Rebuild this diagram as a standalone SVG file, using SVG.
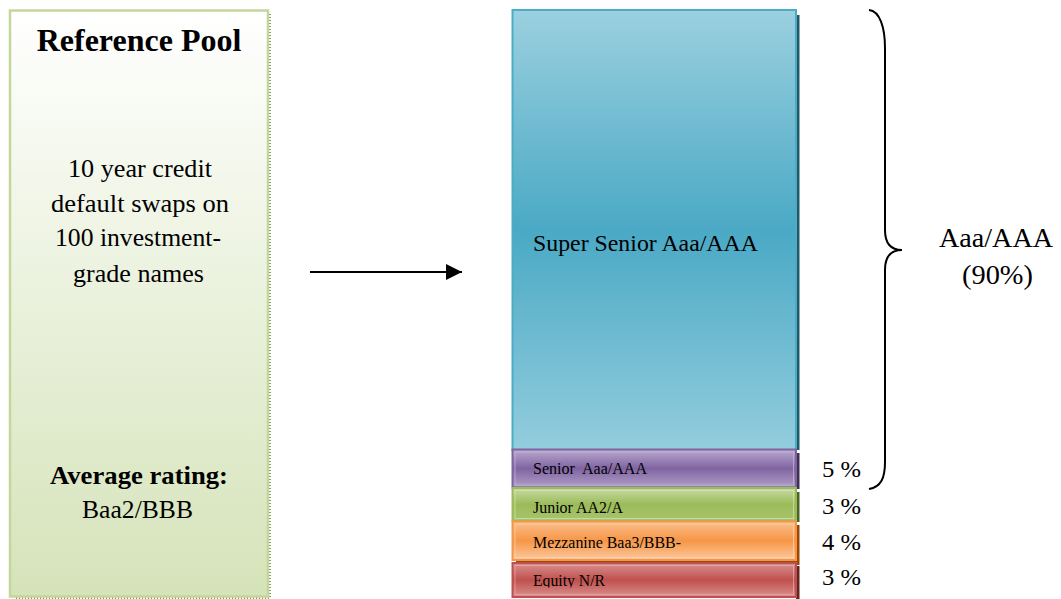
<svg xmlns="http://www.w3.org/2000/svg" width="1061" height="599" viewBox="0 0 1061 599">
<style>
text{font-family:"Liberation Serif","Times New Roman",serif;fill:#000}
.b{font-weight:bold}
.body{font-size:25px}
.tl{font-size:16px}
.pct{font-size:24px}
.side{font-size:27px}
.conn{stroke:#000;stroke-width:2;fill:none}
</style>
<defs>
<linearGradient id="gPool" x1="0" y1="0" x2="0" y2="1">
<stop offset="0" stop-color="#ffffff"/><stop offset="1" stop-color="#d5e3b9"/>
</linearGradient>
<linearGradient id="gSS" x1="0" y1="0" x2="0" y2="1">
<stop offset="0" stop-color="#9bd0df"/><stop offset="0.5" stop-color="#4aa9c5"/><stop offset="1" stop-color="#93cddd"/>
</linearGradient>
<linearGradient id="gPu" x1="0" y1="0" x2="0" y2="1">
<stop offset="0" stop-color="#b9a9cf"/><stop offset="0.5" stop-color="#8064a2"/><stop offset="1" stop-color="#b09fc6"/>
</linearGradient>
<linearGradient id="gGr" x1="0" y1="0" x2="0" y2="1">
<stop offset="0" stop-color="#c8dba4"/><stop offset="0.5" stop-color="#9bbb59"/><stop offset="1" stop-color="#a9c46f"/>
</linearGradient>
<linearGradient id="gOr" x1="0" y1="0" x2="0" y2="1">
<stop offset="0" stop-color="#fbbf8e"/><stop offset="0.5" stop-color="#f79646"/><stop offset="1" stop-color="#fcc9a0"/>
</linearGradient>
<linearGradient id="gRe" x1="0" y1="0" x2="0" y2="1">
<stop offset="0" stop-color="#d89290"/><stop offset="0.5" stop-color="#c0504d"/><stop offset="1" stop-color="#d9908e"/>
</linearGradient>
<marker id="ah" viewBox="0 0 16 16" refX="16" refY="8" markerWidth="16" markerHeight="16" markerUnits="userSpaceOnUse" orient="auto">
<path d="M0,0 L16,8 L0,16 Z" fill="#000"/>
</marker>
<clipPath id="clipEq"><rect x="512" y="562" width="290" height="25.5"/></clipPath>
</defs>
<rect width="1061" height="599" fill="#fff"/>

<g id="reference-pool">
<path d="M270,14 V598 H14" fill="none" stroke="#5f7530" stroke-width="1.5" stroke-dasharray="1,2"/>
<rect x="10" y="10.5" width="258" height="586" fill="url(#gPool)" stroke="#c3d69b" stroke-width="2.5"/>
<text class="b" x="139" y="51" font-size="32" text-anchor="middle">Reference Pool</text>
<text class="body" x="68" y="177" textLength="144" lengthAdjust="spacingAndGlyphs">10 year credit</text>
<text class="body" x="51" y="212" textLength="178" lengthAdjust="spacingAndGlyphs">default swaps on</text>
<text class="body" x="55" y="246" textLength="166" lengthAdjust="spacingAndGlyphs">100 investment-</text>
<text class="body" x="73" y="282" textLength="131" lengthAdjust="spacingAndGlyphs">grade names</text>
<text class="body b" x="50" y="484" textLength="178" lengthAdjust="spacingAndGlyphs">Average rating:</text>
<text class="body" x="82" y="518" textLength="111" lengthAdjust="spacingAndGlyphs">Baa2/BBB</text>
</g>

<g id="super-senior">
<rect x="796" y="15" width="3.5" height="435" fill="#215968"/>
<rect x="512.5" y="10" width="283.5" height="440" fill="url(#gSS)" stroke="#4bacc6" stroke-width="2"/>
<text x="533" y="251" font-size="24" textLength="225" lengthAdjust="spacingAndGlyphs">Super Senior Aaa/AAA</text>
</g>

<g id="senior">
<rect x="796" y="453" width="3.5" height="36" fill="#3f3151"/>
<rect x="512.5" y="449.5" width="283.5" height="38" fill="url(#gPu)" stroke="#8064a2" stroke-width="2"/>
<rect x="515" y="452" width="278.5" height="33" fill="none" stroke="#c6b8d8" stroke-width="1" opacity="0.7"/>
<text class="tl" x="533" y="474" xml:space="preserve" textLength="114" lengthAdjust="spacingAndGlyphs">Senior  Aaa/AAA</text>
</g>

<g id="junior">
<rect x="796" y="492" width="3.5" height="30" fill="#4f6228"/>
<rect x="512.5" y="488" width="283.5" height="33" fill="url(#gGr)" stroke="#9bbb59" stroke-width="2"/>
<rect x="515" y="490.5" width="278.5" height="28" fill="none" stroke="#d4e3b5" stroke-width="1" opacity="0.7"/>
<text class="tl" x="533" y="513" textLength="90" lengthAdjust="spacingAndGlyphs">Junior AA2/A</text>
</g>

<g id="mezzanine">
<rect x="516" y="525" width="283.5" height="40" fill="#984807"/>
<rect x="512.5" y="521.5" width="283.5" height="38.5" fill="url(#gOr)" stroke="#f79646" stroke-width="2"/>
<rect x="515" y="524" width="278.5" height="33.5" fill="none" stroke="#fcd5b4" stroke-width="1" opacity="0.7"/>
<text class="tl" x="533" y="548" textLength="148" lengthAdjust="spacingAndGlyphs">Mezzanine Baa3/BBB-</text>
</g>

<g id="equity">
<rect x="796" y="566" width="3.5" height="33" fill="#632523"/>
<rect x="512.5" y="563" width="283.5" height="34" fill="url(#gRe)" stroke="#c0504d" stroke-width="2"/>
<rect x="515" y="565.5" width="278.5" height="29" fill="none" stroke="#e6b9b8" stroke-width="1" opacity="0.6"/>
<text class="tl" x="533" y="586" textLength="72" lengthAdjust="spacingAndGlyphs" clip-path="url(#clipEq)">Equity N/R</text>
</g>

<g id="percentages">
<text class="pct" x="822" y="477" textLength="39" lengthAdjust="spacingAndGlyphs">5 %</text>
<text class="pct" x="822" y="514" textLength="39" lengthAdjust="spacingAndGlyphs">3 %</text>
<text class="pct" x="822" y="550" textLength="39" lengthAdjust="spacingAndGlyphs">4 %</text>
<text class="pct" x="822" y="585" textLength="39" lengthAdjust="spacingAndGlyphs">3 %</text>
</g>

<g id="brace-label">
<text class="side" x="939" y="247" textLength="114" lengthAdjust="spacingAndGlyphs">Aaa/AAA</text>
<text class="side" x="962" y="284" textLength="71" lengthAdjust="spacingAndGlyphs">(90%)</text>
</g>

<g id="connectors">
<line class="conn" x1="310" y1="272" x2="462" y2="272" marker-end="url(#ah)"/>
<path class="conn" d="M869,10 C880,11 885,28 885,48 L885,230 C885,243 890,250 902,250 C890,250 885,257 885,270 L885,462 C885,478 881,487 869,489"/>
</g>
</svg>
